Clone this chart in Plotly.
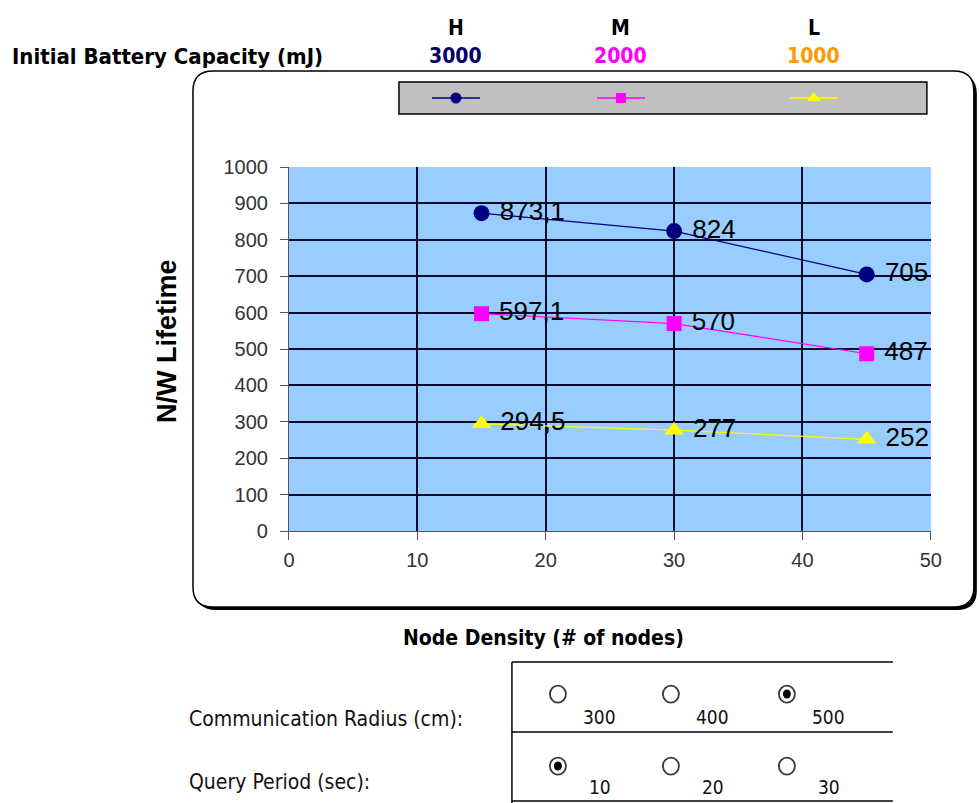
import plotly.graph_objects as go

# ---- data -------------------------------------------------------------
node_density = [15, 30, 45]
lifetime_h = [873.1, 824, 705]
lifetime_m = [597.1, 570, 487]
lifetime_l = [294.5, 277, 252]

capacity_levels = ["H", "M", "L"]
capacity_mj = [3000, 2000, 1000]

x_ticks = [0, 10, 20, 30, 40, 50]
y_ticks = [0, 100, 200, 300, 400, 500, 600, 700, 800, 900, 1000]

radius_options = [300, 400, 500]
radius_selected = 500
period_options = [10, 20, 30]
period_selected = 10

# ---- layout helpers ---------------------------------------------------
W, H = 992, 816
# the page shows the figure with a small offset and scale; layout positions
# below are given in on-screen pixels and converted here
SX, OX = 0.983, 5.0
SY, OY = 0.973, 10.0

NARROW = "DejaVu Sans Condensed, Liberation Sans Narrow, Arial Narrow, sans-serif"
ARIAL = "Liberation Sans, Arial, sans-serif"

series_style = [
    dict(color="#000080", symbol="circle", size=16),
    dict(color="#FF00FF", symbol="square", size=15),
    dict(color="#FFFF00", symbol="triangle-up", size=17),
]
level_colors = ["#000066", "#FF00FF", "#FF9900"]


def fx(x):
    return (x - OX) / SX


def fy(y):
    return (y - OY) / SY


def px(x):
    """Screen pixel column -> paper fraction."""
    return fx(x) / W


def py(y):
    """Screen pixel row -> paper fraction."""
    return 1 - fy(y) / H


def rounded_path(x0, y0, x1, y1, r):
    """Rounded rectangle in paper coordinates from pixel corners."""
    pts = [
        ("M", x0 + r, y0), ("L", x1 - r, y0), ("Q", x1, y0, x1, y0 + r),
        ("L", x1, y1 - r), ("Q", x1, y1, x1 - r, y1), ("L", x0 + r, y1),
        ("Q", x0, y1, x0, y1 - r), ("L", x0, y0 + r), ("Q", x0, y0, x0 + r, y0),
    ]
    out = []
    for p in pts:
        cmd, coords = p[0], p[1:]
        vals = []
        for i in range(0, len(coords), 2):
            vals.append(f"{px(coords[i]):.5f},{py(coords[i + 1]):.5f}")
        out.append(cmd + " " + " ".join(vals))
    return " ".join(out) + " Z"


def fmt(v):
    return "\u00a0" + f"{v:g}".replace(".", ",")


fig = go.Figure()

# main series
for vals, st in zip([lifetime_h, lifetime_m, lifetime_l], series_style):
    fig.add_trace(go.Scatter(
        x=node_density, y=vals, mode="lines+markers+text",
        line=dict(color=st["color"], width=1.2),
        marker=dict(symbol=st["symbol"], size=st["size"], color=st["color"]),
        text=[fmt(v) for v in vals], textposition="middle right",
        textfont=dict(family=ARIAL, size=26, color="#000000"),
        cliponaxis=False, showlegend=False, hoverinfo="skip",
    ))

# legend samples inside the grey key box (axis in screen pixel units)
legend_cx = [455, 620, 813]
for cx, st in zip(legend_cx, series_style):
    fig.add_trace(go.Scatter(
        x=[cx - 24, cx + 24], y=[97, 97], mode="lines",
        line=dict(color=st["color"], width=1.5),
        xaxis="x2", yaxis="y2", showlegend=False, hoverinfo="skip",
    ))
    fig.add_trace(go.Scatter(
        x=[cx], y=[97], mode="markers",
        marker=dict(symbol=st["symbol"], size=st["size"] - 5, color=st["color"]),
        xaxis="x2", yaxis="y2", showlegend=False, hoverinfo="skip",
    ))

shapes = []
# chart frame with shadow
shapes.append(dict(type="path", xref="paper", yref="paper", layer="below",
                   path=rounded_path(195, 73, 976, 609, 20),
                   fillcolor="#000000", line=dict(width=0)))
shapes.append(dict(type="path", xref="paper", yref="paper", layer="below",
                   path=rounded_path(192, 70, 973, 606, 20),
                   fillcolor="#FFFFFF", line=dict(color="#000000", width=1.5)))
# plot area background
shapes.append(dict(type="rect", xref="x domain", yref="y domain", layer="below",
                   x0=0, x1=1, y0=0, y1=1, fillcolor="#99CCFF",
                   line=dict(width=0)))
# key box
shapes.append(dict(type="rect", xref="paper", yref="paper", layer="below",
                   x0=px(398), x1=px(926), y0=py(113), y1=py(81),
                   fillcolor="#C0C0C0", line=dict(color="#000000", width=1.5)))

# parameter table lines
for (x0, y0, x1, y1) in [(511, 661, 892, 661), (511, 731, 892, 731),
                         (511, 800, 892, 800), (511, 661, 511, 803)]:
    shapes.append(dict(type="line", xref="paper", yref="paper",
                       x0=px(x0), y0=py(y0), x1=px(x1), y1=py(y1),
                       line=dict(color="#000000", width=1.5)))

annotations = []


def note(x, y, text, size, color="#000000", family=NARROW, bold=False,
         xanchor="center", angle=0):
    t = f"<b>{text}</b>" if bold else text
    annotations.append(dict(x=px(x), y=py(y), xref="paper", yref="paper",
                            text=t, showarrow=False, xanchor=xanchor,
                            yanchor="middle", textangle=angle,
                            font=dict(family=family, size=size, color=color)))


# header: capacity levels
note(9, 55, "Initial Battery Capacity (mJ)", 22, bold=True, xanchor="left")
for cx, lvl, cap, col in zip(legend_cx, capacity_levels, capacity_mj, level_colors):
    note(cx, 27, lvl, 21, bold=True)
    note(cx, 55, str(cap), 21, color=col, bold=True)

# axis titles
note(166, 340, "N/W Lifetime", 27, family=ARIAL, bold=True, angle=-90)
note(543, 637, "Node Density (# of nodes)", 21, bold=True)

# parameter selectors
note(186, 718, "Communication Radius (cm):", 21, color="#111111", xanchor="left")
note(186, 781, "Query Period (sec):", 21, color="#111111", xanchor="left")

radio_x = [557, 670, 786]
rows = [(radius_options, radius_selected, 693, 716),
        (period_options, period_selected, 765, 786)]
for opts, sel, cy, ly in rows:
    for cx, opt in zip(radio_x, opts):
        shapes.append(dict(type="circle", xref="paper", yref="paper",
                           x0=px(cx - 8), x1=px(cx + 8), y0=py(cy + 8.5),
                           y1=py(cy - 8.5), fillcolor="#FFFFFF",
                           line=dict(color="#3A3A3A", width=1.8)))
        if opt == sel:
            shapes.append(dict(type="circle", xref="paper", yref="paper",
                               x0=px(cx - 4), x1=px(cx + 4), y0=py(cy + 4.5),
                               y1=py(cy - 4.5), fillcolor="#000000",
                               line=dict(width=0)))
        note(cx + 42, ly, str(opt), 19, color="#111111")

fig.update_layout(
    width=W, height=H, autosize=False,
    margin=dict(l=0, r=0, t=0, b=0),
    paper_bgcolor="#FFFFFF",
    plot_bgcolor="rgba(0,0,0,0)",
    shapes=shapes,
    annotations=annotations,
    xaxis=dict(
        domain=[px(288), px(930)], range=[0, 50], tickvals=x_ticks,
        showgrid=True, gridcolor="#0A0A2A", gridwidth=1.5, zeroline=False,
        showline=True, linecolor="#555555", linewidth=1,
        ticks="outside", ticklen=8, tickcolor="#555555", ticklabelstandoff=3,
        tickfont=dict(family=ARIAL, size=20, color="#333333"),
    ),
    yaxis=dict(
        domain=[py(530), py(166)], range=[0, 1000], tickvals=y_ticks,
        showgrid=True, gridcolor="#0A0A2A", gridwidth=1.5, zeroline=False,
        showline=True, linecolor="#555555", linewidth=1,
        ticks="outside", ticklen=8, tickcolor="#555555", ticklabelstandoff=8,
        tickfont=dict(family=ARIAL, size=20, color="#333333"),
    ),
    xaxis2=dict(domain=[px(398), px(926)], range=[398, 926], visible=False,
                anchor="y2", fixedrange=True),
    yaxis2=dict(domain=[py(113), py(81)], range=[113, 81], visible=False,
                anchor="x2", fixedrange=True),
)

fig.write_html("out.html")
